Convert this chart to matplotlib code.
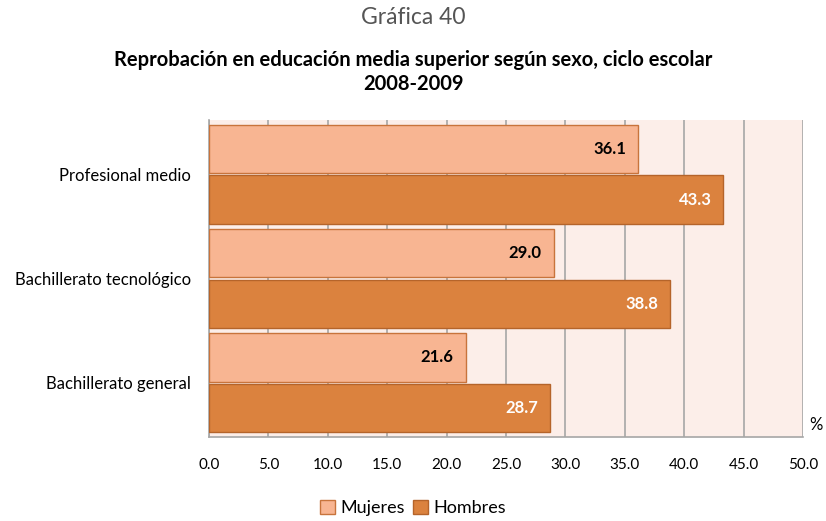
import numpy as np
import matplotlib.pyplot as plt

categorias = ["Profesional medio", "Bachillerato tecnológico", "Bachillerato general"]
mujeres = [36.1, 29.0, 21.6]
hombres = [43.3, 38.8, 28.7]

plt.rcParams['font.family'] = ['Lato', 'DejaVu Sans']

fig = plt.figure(figsize=(8.26, 5.21), dpi=100)
ax = fig.add_axes([209 / 826, 1 - 437 / 521, (803 - 209) / 826, (437 - 120) / 521])

y = np.arange(len(categorias))
alto = 0.465
ax.barh(y - alto / 2 - 0.01, mujeres, height=alto, color="#F8B592", edgecolor="#C8743C", linewidth=1, label="Mujeres", zorder=3)
ax.barh(y + alto / 2 + 0.01, hombres, height=alto, color="#DB823E", edgecolor="#B5642A", linewidth=1, label="Hombres", zorder=3)

for i in range(len(categorias)):
    ax.text(mujeres[i] - 1.0, y[i] - alto / 2 - 0.01, f"{mujeres[i]:.1f}", ha="right", va="center",
            fontsize=12, fontweight="bold", color="black", zorder=4)
    ax.text(hombres[i] - 1.0, y[i] + alto / 2 + 0.01, f"{hombres[i]:.1f}", ha="right", va="center",
            fontsize=12, fontweight="bold", color="white", zorder=4)

ax.set_facecolor("#FCEEE9")
ax.set_xlim(0, 50)
ax.set_ylim(2.52, -0.52)
ax.set_xticks(np.arange(0, 50.1, 5))
ax.set_xticklabels([f"{v:.1f}" for v in np.arange(0, 50.1, 5)], fontsize=11)
ax.set_yticks(y)
ax.set_yticklabels(categorias, fontsize=12)
ax.tick_params(axis="x", length=0, pad=15)
ax.tick_params(axis="y", length=0, pad=13)
ax.grid(axis="x", color="#A6A6A6", linewidth=1.2, zorder=1)
for s in ["top", "right"]:
    ax.spines[s].set_visible(False)
for s in ["left", "bottom"]:
    ax.spines[s].set_color("#A6A6A6")
    ax.spines[s].set_linewidth(1.2)

fig.text(816 / 826, 1 - 425 / 521, "%", ha="center", va="center", fontsize=12)

fig.text(0.5, 1 - 18 / 521, "Gráfica 40", ha="center", va="center", fontsize=16.5, color="#555555")
fig.text(0.5, 1 - 72 / 521, "Reprobación en educación media superior según sexo, ciclo escolar\n2008-2009",
         ha="center", va="center", fontsize=14.5, fontweight="bold", linespacing=1.25)

fig.legend(loc="center", bbox_to_anchor=(0.5, 1 - 508 / 521), ncol=2, frameon=False, fontsize=13,
           handlelength=0.8, handleheight=0.8, handletextpad=0.3, columnspacing=0.5)

fig.savefig("out.png", dpi=100)
